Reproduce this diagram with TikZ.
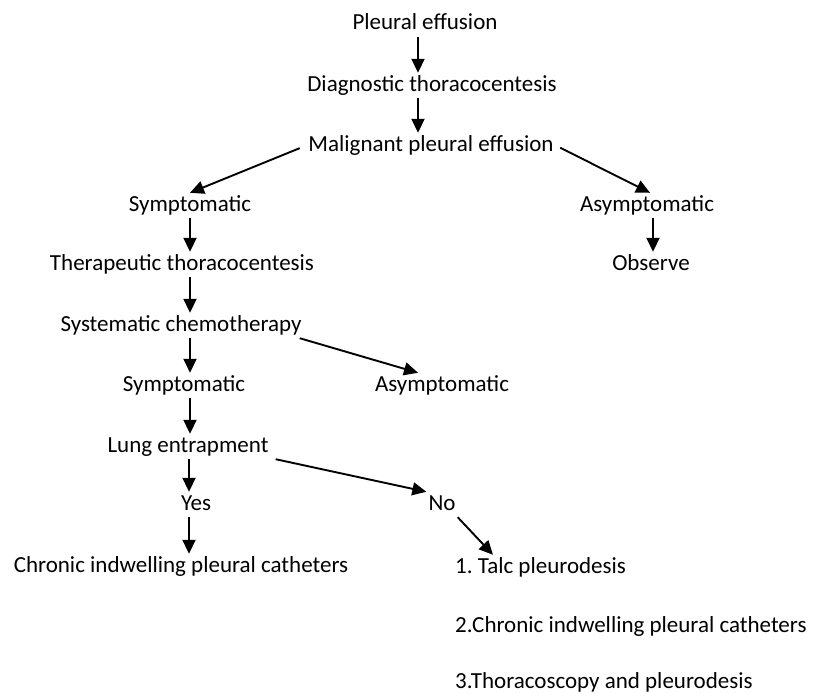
\documentclass[tikz,border=0pt]{standalone}
\usepackage{fontspec}
\setmainfont{Carlito}
\usepackage{tikz}
\usetikzlibrary{arrows.meta, positioning, calc}

\begin{document}
\begin{tikzpicture}[x=1pt,y=-1pt,
                    main node/.style={inner sep=2pt,text height=16pt,text depth=5pt,anchor=base,
                                      font=\fontsize{23}{27}\selectfont},
                    list node/.style={main node,anchor=base west},
                    flow/.style={-{Triangle[length=14pt,width=13pt]},line width=1.9pt}]

  \useasboundingbox (0,0) rectangle (816,693);

  \node[main node] (pe)    at (425,30)  {Pleural effusion};
  \node[main node] (dt)    at (432,91)  {Diagnostic thoracocentesis};
  \node[main node] (mpe)   at (431,151) {Malignant pleural effusion};
  \node[main node] (sym1)  at (190,211) {Symptomatic};
  \node[main node] (asym1) at (647,211) {Asymptomatic};
  \node[main node] (ther)  at (182,270) {Therapeutic thoracocentesis};
  \node[main node] (obs)   at (651,270) {Observe};
  \node[main node] (sys)   at (181,331) {Systematic chemotherapy};
  \node[main node] (sym2)  at (184,391) {Symptomatic};
  \node[main node] (asym2) at (442,391) {Asymptomatic};
  \node[main node] (lung)  at (188,452) {Lung entrapment};
  \node[main node] (yes)   at (196,510) {Yes};
  \node[main node] (no)    at (442,510) {No};
  \node[main node] (cipc)  at (181,572) {Chronic indwelling pleural catheters};
  \node[list node] (talc)  at (453,573) {1.\ Talc pleurodesis};
  \node[list node] (cath)  at (453,632) {2.Chronic indwelling pleural catheters};
  \node[list node] (thor)  at (453,688) {3.Thoracoscopy and pleurodesis};

  \path[flow]
    ([xshift=-7pt]pe.south) edge ([xshift=-7pt]pe.south |- dt.north)
    ([xshift=-14pt]dt.south) edge ([xshift=-14pt]dt.south |- mpe.north)
    (mpe.west) edge[shorten <=7pt] (sym1.north)
    (mpe.east) edge[shorten <=5pt] ([xshift=3pt]asym1.north)
    (sym1.south) edge (sym1.south |- ther.north)
    ([xshift=8pt]ther.south) edge ([xshift=8pt]ther.south |- sys.north)
    ([xshift=9pt]sys.south) edge ([xshift=9pt]sys.south |- sym2.north)
    ([xshift=-4pt]sys.south east) edge ([xshift=-24pt]asym2.north)
    ([xshift=6pt]sym2.south) edge ([xshift=6pt]sym2.south |- lung.north)
    ([xshift=1pt]lung.south) edge ([xshift=1pt]lung.south |- yes.north)
    ([xshift=5pt]lung.south east) edge (no.north west)
    ([xshift=-7pt]yes.south) edge ([xshift=-7pt]yes.south |- cipc.north)
    ([xshift=6pt]asym1.south) edge ([xshift=6pt]asym1.south |- obs.north)
    (no.south east) edge ([xshift=40pt]talc.north west);

\end{tikzpicture}
\end{document}
